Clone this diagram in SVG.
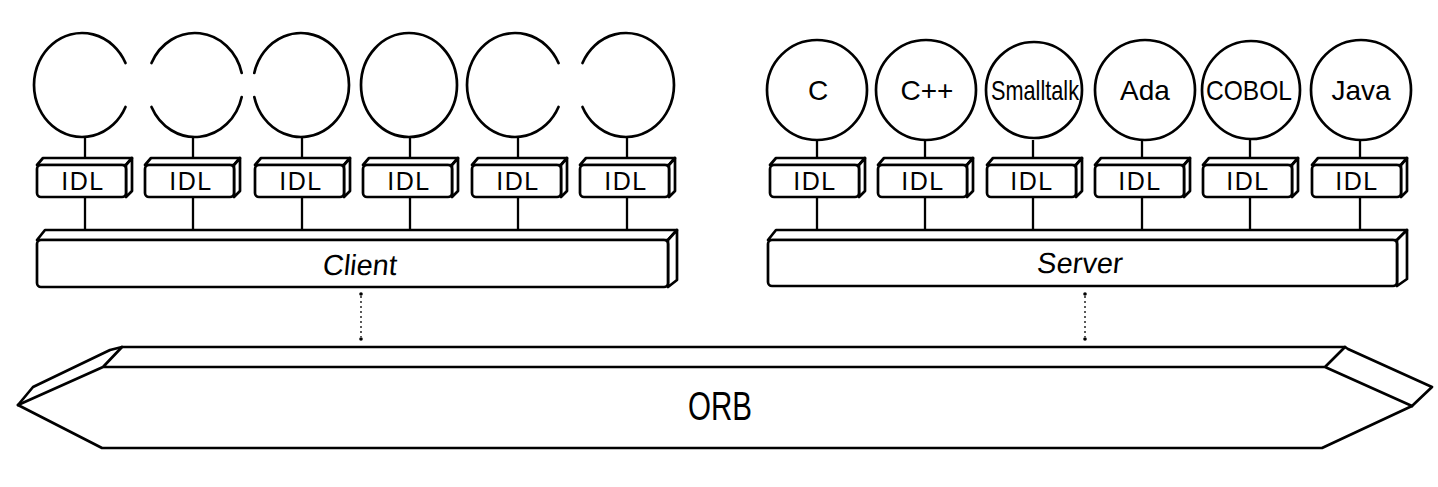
<svg xmlns="http://www.w3.org/2000/svg" xmlns:xlink="http://www.w3.org/1999/xlink" width="1438" height="487" viewBox="0 0 1438 487">
<style>
.ln{fill:none;stroke:#000;stroke-width:2.7;stroke-linejoin:round;stroke-linecap:round}
.box{fill:#fff;stroke:#000;stroke-width:2.7;stroke-linejoin:round}
.con{fill:none;stroke:#000;stroke-width:2.3}
.dot{fill:none;stroke:#000;stroke-width:1.3;stroke-dasharray:2 3}
.idl{font-family:"Liberation Sans",Arial,sans-serif;font-size:25px;letter-spacing:1.5px;text-anchor:middle;fill:#000}
.lang{font-family:"Liberation Sans",Arial,sans-serif;font-size:28px;text-anchor:middle;fill:#000}
.bar{font-family:"Liberation Sans",Arial,sans-serif;font-size:29px;text-anchor:middle;fill:#000}
.orb{font-family:"Liberation Sans",Arial,sans-serif;font-size:40px;text-anchor:middle;fill:#000}
</style>
<defs>
<g id="idlbox">
<path class="box" d="M0,7 L6,0 L95,0 L89,7 Z"/>
<path class="box" d="M89,7 L95,0 L95,33 L89,39 Z"/>
<rect class="box" x="0" y="7" width="89" height="32" rx="4"/>
</g>
</defs>
<rect width="1438" height="487" fill="#fff"/>

<g id="connectors">
<line class="con" x1="85" y1="137" x2="85" y2="158"/>
<line class="con" x1="193" y1="137" x2="193" y2="158"/>
<line class="con" x1="302" y1="137" x2="302" y2="158"/>
<line class="con" x1="410" y1="137" x2="410" y2="158"/>
<line class="con" x1="518" y1="137" x2="518" y2="158"/>
<line class="con" x1="627" y1="137" x2="627" y2="158"/>
<line class="con" x1="85" y1="197" x2="85" y2="230"/>
<line class="con" x1="193" y1="197" x2="193" y2="230"/>
<line class="con" x1="302" y1="197" x2="302" y2="230"/>
<line class="con" x1="410" y1="197" x2="410" y2="230"/>
<line class="con" x1="518" y1="197" x2="518" y2="230"/>
<line class="con" x1="627" y1="197" x2="627" y2="230"/>
<line class="con" x1="817" y1="140" x2="817" y2="158"/>
<line class="con" x1="925" y1="140" x2="925" y2="158"/>
<line class="con" x1="1033" y1="140" x2="1033" y2="158"/>
<line class="con" x1="1142" y1="140" x2="1142" y2="158"/>
<line class="con" x1="1250" y1="140" x2="1250" y2="158"/>
<line class="con" x1="1360" y1="140" x2="1360" y2="158"/>
<line class="con" x1="817" y1="197" x2="817" y2="230"/>
<line class="con" x1="925" y1="197" x2="925" y2="230"/>
<line class="con" x1="1033" y1="197" x2="1033" y2="230"/>
<line class="con" x1="1142" y1="197" x2="1142" y2="230"/>
<line class="con" x1="1250" y1="197" x2="1250" y2="230"/>
<line class="con" x1="1360" y1="197" x2="1360" y2="230"/>
<line class="dot" x1="361" y1="296" x2="361" y2="337"/>
<circle cx="361" cy="294" r="1.8" fill="#000"/>
<circle cx="361" cy="339" r="1.8" fill="#000"/>
<line class="dot" x1="1085" y1="296" x2="1085" y2="337"/>
<circle cx="1085" cy="294" r="1.8" fill="#000"/>
<circle cx="1085" cy="339" r="1.8" fill="#000"/>
</g>

<g id="client-objects">
<path id="c1" class="ln" d="M125.5,107 A48,52 0 1 1 125.5,63"/>
<path id="c2" class="ln" d="M151.5,63 A48,52 0 0 1 241.7,73 M241.7,97 A48,52 0 0 1 151.5,107"/>
<path id="c3" class="ln" d="M254.3,97 A48,52 0 1 0 254.3,73"/>
<ellipse id="c4" class="ln" cx="409" cy="85" rx="48" ry="52"/>
<path id="c5" class="ln" d="M558.5,107 A48,52 0 1 1 558.5,63"/>
<path id="c6" class="ln" d="M582.5,107 A48,52 0 1 0 582.5,63"/>
</g>

<g id="server-objects">
<g id="lang-c"><circle class="ln" cx="817" cy="90" r="50"/><text class="lang" x="818" y="100">C</text></g>
<g id="lang-cpp"><circle class="ln" cx="926" cy="90" r="50"/><text class="lang" x="927" y="100">C++</text></g>
<g id="lang-smalltalk"><circle class="ln" cx="1034" cy="90" r="48"/><text class="lang" x="1035" y="100" font-size="26" textLength="88" lengthAdjust="spacingAndGlyphs">Smalltalk</text></g>
<g id="lang-ada"><circle class="ln" cx="1145" cy="90" r="50"/><text class="lang" x="1145" y="100">Ada</text></g>
<g id="lang-cobol"><circle class="ln" cx="1251" cy="90" r="49"/><text class="lang" x="1249" y="100" textLength="86" lengthAdjust="spacingAndGlyphs">COBOL</text></g>
<g id="lang-java"><circle class="ln" cx="1361" cy="90" r="50"/><text class="lang" x="1361" y="100">Java</text></g>
</g>

<g id="client-idl">
<g id="cidl1"><use xlink:href="#idlbox" x="37" y="158"/><text class="idl" x="83" y="190">IDL</text></g>
<g id="cidl2"><use xlink:href="#idlbox" x="145" y="158"/><text class="idl" x="191" y="190">IDL</text></g>
<g id="cidl3"><use xlink:href="#idlbox" x="255" y="158"/><text class="idl" x="301" y="190">IDL</text></g>
<g id="cidl4"><use xlink:href="#idlbox" x="363" y="158"/><text class="idl" x="409" y="190">IDL</text></g>
<g id="cidl5"><use xlink:href="#idlbox" x="472" y="158"/><text class="idl" x="518" y="190">IDL</text></g>
<g id="cidl6"><use xlink:href="#idlbox" x="580" y="158"/><text class="idl" x="626" y="190">IDL</text></g>
</g>

<g id="server-idl">
<g id="sidl1"><use xlink:href="#idlbox" x="770" y="158"/><text class="idl" x="815" y="190">IDL</text></g>
<g id="sidl2"><use xlink:href="#idlbox" x="878" y="158"/><text class="idl" x="923" y="190">IDL</text></g>
<g id="sidl3"><use xlink:href="#idlbox" x="987" y="158"/><text class="idl" x="1032" y="190">IDL</text></g>
<g id="sidl4"><use xlink:href="#idlbox" x="1095" y="158"/><text class="idl" x="1140" y="190">IDL</text></g>
<g id="sidl5"><use xlink:href="#idlbox" x="1203" y="158"/><text class="idl" x="1248" y="190">IDL</text></g>
<g id="sidl6"><use xlink:href="#idlbox" x="1312" y="158"/><text class="idl" x="1357" y="190">IDL</text></g>
</g>

<g id="client">
<path class="box" d="M37,240 L45,230 L677,230 L668,240 Z"/>
<path class="box" d="M668,240 L677,230 L677,280 L668,287 Z"/>
<rect class="box" x="37" y="240" width="631" height="47" rx="4"/>
<text class="bar" x="0" y="0" transform="translate(359,275) skewX(-6)">Client</text>
</g>

<g id="server">
<path class="box" d="M768,240 L776,230 L1407,230 L1397,240 Z"/>
<path class="box" d="M1397,240 L1407,230 L1407,279 L1397,286 Z"/>
<rect class="box" x="768" y="240" width="629" height="46" rx="4"/>
<text class="bar" x="0" y="0" transform="translate(1079,273) skewX(-6)">Server</text>
</g>

<g id="orb">
<path class="box" d="M122,347 L1345,347 L1348,349 L1432,387 L1412,406 L1322,448 L102,448 L18,405 L33,387 L110,350 Z"/>
<path class="ln" d="M122,347 L103,367 L1325,367 L1345,347 M18,405 L103,367 M1325,367 L1412,406"/>
<text class="orb" x="720" y="420" textLength="64" lengthAdjust="spacingAndGlyphs">ORB</text>
</g>
</svg>
